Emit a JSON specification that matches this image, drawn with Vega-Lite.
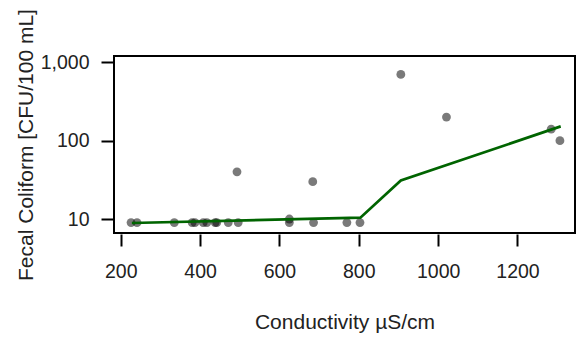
{
  "$schema": "https://vega.github.io/schema/vega-lite/v6.json",
  "autosize": "none",
  "width": 461,
  "height": 177,
  "padding": {"left": 114, "top": 56, "right": 1, "bottom": 110},
  "background": "white",
  "config": {
    "view": {"stroke": "black", "strokeWidth": 2},
    "axis": {
      "domain": false,
      "grid": false,
      "ticks": true,
      "tickColor": "black",
      "tickWidth": 2,
      "tickSize": 12,
      "labelFont": "Liberation Sans",
      "labelFontSize": 19.5,
      "labelColor": "#222",
      "titleFont": "Liberation Sans",
      "titleFontSize": 21,
      "titleFontWeight": "normal",
      "titleColor": "#222"
    }
  },
  "datasets": {
    "pts": [
      {"cond": 226, "fc": 9},
      {"cond": 241, "fc": 9},
      {"cond": 335, "fc": 9},
      {"cond": 380, "fc": 9},
      {"cond": 387, "fc": 9},
      {"cond": 408, "fc": 9},
      {"cond": 417, "fc": 9},
      {"cond": 438, "fc": 9},
      {"cond": 442, "fc": 9},
      {"cond": 471, "fc": 9},
      {"cond": 493, "fc": 40},
      {"cond": 496, "fc": 9},
      {"cond": 625, "fc": 9},
      {"cond": 625, "fc": 10},
      {"cond": 684, "fc": 30},
      {"cond": 686, "fc": 9},
      {"cond": 770, "fc": 9},
      {"cond": 803, "fc": 9},
      {"cond": 906, "fc": 700},
      {"cond": 1021, "fc": 200},
      {"cond": 1285, "fc": 140},
      {"cond": 1307, "fc": 100}
    ],
    "fit": [
      {"cond": 228, "fc": 8.9},
      {"cond": 804, "fc": 10.4},
      {"cond": 906, "fc": 31},
      {"cond": 1309, "fc": 152}
    ]
  },
  "layer": [
    {
      "data": {"name": "pts"},
      "mark": {"type": "circle", "size": 78, "color": "black", "opacity": 0.52},
      "encoding": {
        "x": {
          "field": "cond", "type": "quantitative",
          "scale": {"domain": [183, 1345], "nice": false, "zero": false},
          "axis": {"values": [200, 400, 600, 800, 1000, 1200], "format": "d", "labelPadding": 16, "title": "Conductivity µS/cm", "titlePadding": 31, "offset": 1}
        },
        "y": {
          "field": "fc", "type": "quantitative",
          "scale": {"type": "log", "domain": [6.63, 1203], "nice": false},
          "axis": {"values": [10, 100, 1000], "format": ",", "labelPadding": 12, "title": "Fecal Coliform [CFU/100 mL]", "titlePadding": 4, "offset": 1}
        }
      }
    },
    {
      "data": {"name": "fit"},
      "mark": {"type": "line", "color": "#006400", "strokeWidth": 2.7},
      "encoding": {
        "x": {"field": "cond", "type": "quantitative"},
        "y": {"field": "fc", "type": "quantitative"}
      }
    }
  ]
}
